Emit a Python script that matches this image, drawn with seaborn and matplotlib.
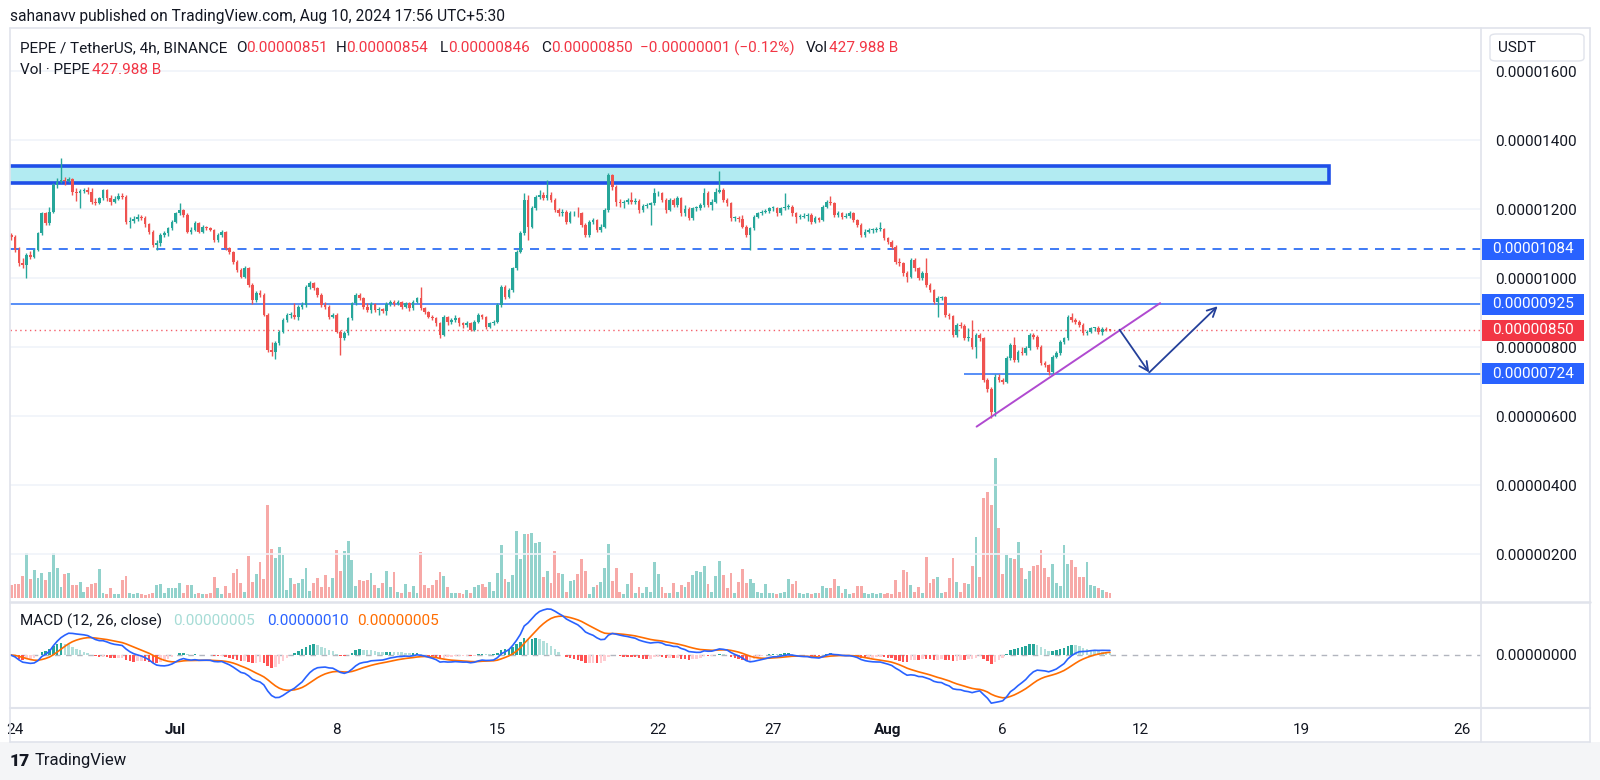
import numpy as np
import pandas as pd
import matplotlib
matplotlib.use("Agg")
import matplotlib.pyplot as plt
import matplotlib.dates as mdates
from matplotlib.patches import Rectangle, FancyBboxPatch
from matplotlib.lines import Line2D
import matplotlib.transforms as mtransforms
import seaborn as sns

sns.set_theme(style="white")
plt.rcParams['font.family'] = ['Roboto', 'DejaVu Sans']

# ---------------- data (prices in units of 1e-8 USDT) ----------------
UNIT = 1e-8
first_time = "2024-06-23 16:00"
first_open = 1154
closes = [
    1126, 1121, 1082, 1043, 1039, 1068,
    1063, 1082, 1130, 1188, 1159, 1193,
    1270, 1280, 1285, 1282, 1287, 1251,
    1246, 1253, 1256, 1251, 1222, 1218,
    1232, 1256, 1232, 1222, 1230, 1239,
    1236, 1164, 1166, 1172, 1179, 1176,
    1156, 1135, 1097, 1101, 1126, 1130,
    1145, 1164, 1188, 1198, 1184, 1135,
    1140, 1160, 1135, 1148, 1145, 1140,
    1111, 1126, 1135, 1087, 1077, 1048,
    1024, 1005, 1029, 981, 937, 957,
    952, 894, 792, 787, 812, 845,
    879, 894, 894, 889, 918, 923,
    976, 986, 971, 952, 923, 918,
    889, 894, 845, 826, 841, 884,
    928, 952, 942, 918, 908, 925,
    908, 910, 906, 925, 932, 926,
    932, 918, 928, 913, 932, 942,
    913, 903, 889, 884, 869, 836,
    889, 872, 879, 884, 869, 865,
    869, 850, 874, 893, 889, 860,
    869, 874, 923, 976, 947, 966,
    1029, 1077, 1130, 1227, 1150, 1203,
    1237, 1241, 1232, 1241, 1227, 1198,
    1188, 1193, 1164, 1188, 1190, 1188,
    1155, 1125, 1164, 1169, 1140, 1150,
    1198, 1300, 1265, 1222, 1217, 1222,
    1227, 1222, 1225, 1198, 1210, 1212,
    1217, 1246, 1246, 1227, 1198, 1227,
    1212, 1232, 1188, 1200, 1174, 1203,
    1203, 1212, 1248, 1212, 1222, 1251,
    1256, 1227, 1217, 1174, 1174, 1172,
    1150, 1126, 1145, 1179, 1188, 1193,
    1196, 1203, 1203, 1188, 1203, 1208,
    1208, 1188, 1179, 1179, 1181, 1184,
    1164, 1174, 1169, 1208, 1222, 1217,
    1184, 1188, 1179, 1181, 1188, 1169,
    1155, 1126, 1135, 1140, 1140, 1142,
    1142, 1116, 1106, 1092, 1048, 1043,
    1014, 1005, 1053, 1029, 1000, 1014,
    981, 966, 932, 942, 945, 894,
    890, 836, 865, 863, 826, 826,
    802, 836, 826, 705, 680, 612,
    715, 705, 700, 768, 807, 763,
    787, 783, 797, 836, 831, 802,
    754, 749, 729, 773, 783, 816,
    826, 889, 879, 874, 865, 841,
    845, 855, 855, 845, 852, 851, 850,
]
highs = [
    1160, 1131, 1125, 1090, 1060, 1072,
    1080, 1086, 1135, 1192, 1192, 1208,
    1276, 1290, 1348, 1295, 1293, 1290,
    1262, 1258, 1262, 1265, 1262, 1232,
    1236, 1260, 1260, 1240, 1238, 1246,
    1246, 1240, 1178, 1180, 1186, 1184,
    1180, 1160, 1140, 1110, 1130, 1138,
    1150, 1168, 1192, 1217, 1202, 1188,
    1150, 1166, 1164, 1154, 1152, 1150,
    1144, 1132, 1140, 1138, 1092, 1080,
    1052, 1030, 1035, 1034, 985, 962,
    966, 958, 898, 815, 818, 850,
    884, 900, 902, 928, 922, 930,
    980, 993, 990, 975, 956, 930,
    922, 900, 898, 850, 846, 888,
    932, 956, 958, 946, 928, 930,
    928, 916, 914, 930, 938, 936,
    938, 935, 932, 930, 936, 947,
    976, 918, 906, 894, 888, 872,
    893, 892, 886, 893, 888, 874,
    876, 872, 878, 898, 897, 892,
    874, 880, 928, 980, 982, 972,
    1034, 1082, 1136, 1248, 1240, 1210,
    1242, 1256, 1250, 1285, 1250, 1232,
    1204, 1200, 1198, 1194, 1196, 1208,
    1192, 1160, 1170, 1175, 1172, 1156,
    1204, 1305, 1302, 1270, 1230, 1228,
    1232, 1251, 1232, 1230, 1215, 1218,
    1222, 1262, 1252, 1250, 1232, 1232,
    1232, 1238, 1236, 1212, 1206, 1208,
    1210, 1218, 1262, 1252, 1230, 1262,
    1312, 1262, 1234, 1222, 1182, 1180,
    1184, 1155, 1150, 1184, 1192, 1198,
    1200, 1208, 1210, 1206, 1208, 1246,
    1214, 1212, 1192, 1186, 1188, 1190,
    1188, 1180, 1178, 1212, 1228, 1238,
    1220, 1194, 1192, 1188, 1194, 1192,
    1172, 1160, 1142, 1146, 1146, 1150,
    1164, 1146, 1120, 1110, 1096, 1058,
    1048, 1020, 1058, 1058, 1034, 1020,
    1058, 986, 970, 948, 950, 950,
    900, 894, 870, 872, 868, 855,
    880, 842, 840, 830, 712, 686,
    722, 722, 712, 774, 812, 829,
    792, 800, 804, 840, 842, 836,
    806, 760, 752, 778, 788, 820,
    830, 894, 899, 886, 880, 870,
    850, 860, 860, 862, 858, 858, 854,
]
lows = [
    1120, 1112, 1075, 1036, 1030, 1000,
    1055, 1058, 1078, 1125, 1155, 1155,
    1188, 1262, 1275, 1270, 1278, 1240,
    1225, 1205, 1248, 1245, 1215, 1212,
    1214, 1228, 1225, 1212, 1218, 1226,
    1230, 1158, 1145, 1160, 1166, 1170,
    1150, 1128, 1090, 1082, 1095, 1120,
    1124, 1140, 1160, 1184, 1178, 1130,
    1128, 1136, 1130, 1132, 1140, 1136,
    1105, 1106, 1120, 1082, 1070, 1042,
    1018, 1000, 1000, 976, 925, 930,
    945, 890, 785, 775, 766, 806,
    840, 872, 886, 882, 880, 912,
    918, 970, 965, 946, 918, 910,
    882, 884, 840, 778, 820, 836,
    880, 922, 936, 912, 902, 900,
    902, 895, 898, 895, 920, 920,
    922, 912, 914, 906, 908, 928,
    908, 896, 884, 878, 862, 826,
    832, 866, 868, 874, 862, 856,
    860, 846, 846, 870, 882, 852,
    855, 864, 870, 918, 940, 942,
    960, 1024, 1072, 1125, 1111, 1145,
    1198, 1230, 1226, 1228, 1220, 1192,
    1180, 1182, 1158, 1160, 1182, 1178,
    1150, 1120, 1120, 1158, 1134, 1134,
    1145, 1192, 1256, 1210, 1208, 1205,
    1215, 1215, 1215, 1190, 1192, 1204,
    1155, 1212, 1238, 1220, 1190, 1194,
    1206, 1208, 1180, 1182, 1168, 1170,
    1196, 1198, 1208, 1206, 1198, 1218,
    1246, 1222, 1210, 1166, 1166, 1164,
    1145, 1120, 1082, 1140, 1174, 1184,
    1188, 1190, 1196, 1182, 1184, 1198,
    1200, 1182, 1159, 1172, 1174, 1166,
    1158, 1160, 1162, 1165, 1204, 1212,
    1178, 1178, 1172, 1174, 1176, 1164,
    1148, 1120, 1120, 1130, 1132, 1134,
    1136, 1110, 1100, 1086, 1040, 1036,
    1008, 990, 1000, 1022, 994, 994,
    976, 960, 926, 888, 936, 888,
    882, 830, 830, 856, 820, 818,
    796, 768, 818, 698, 670, 594,
    600, 698, 694, 696, 762, 758,
    758, 778, 778, 792, 824, 796,
    748, 742, 720, 724, 768, 778,
    810, 820, 872, 868, 858, 836,
    836, 840, 848, 838, 836, 846, 846,
]
volume_b = [
    1020, 1105, 1190, 1190, 1870, 3825,
    1615, 2380, 1700, 2125, 1530, 2210,
    3825, 2550, 935, 2040, 2125, 1105,
    1105, 1360, 510, 935, 1190, 1275,
    2465, 425, 340, 850, 340, 340,
    1530, 1870, 425, 340, 425, 340,
    255, 340, 425, 1105, 1190, 425,
    850, 850, 850, 1275, 425, 1105,
    1105, 340, 425, 340, 340, 425,
    1785, 850, 340, 1020, 425, 2125,
    2465, 1275, 510, 3570, 1360, 2040,
    3060, 1615, 7905, 4165, 3400, 4335,
    3655, 680, 1700, 1190, 1275, 1615,
    2550, 595, 1275, 1700, 935, 1955,
    935, 1700, 4080, 2295, 3995, 4845,
    3230, 1020, 1530, 1445, 1530, 2125,
    1105, 850, 1275, 2295, 935, 2210,
    510, 425, 1190, 510, 1020, 425,
    3910, 1105, 850, 1105, 1530, 2210,
    1870, 935, 425, 425, 425, 340,
    680, 425, 935, 1105, 1190, 935,
    1360, 595, 2125, 4505, 1615, 1360,
    1955, 5695, 3315, 5440, 5440, 5525,
    4675, 4760, 1785, 2295, 1275, 3995,
    2125, 2040, 510, 1445, 1530, 2040,
    3315, 2295, 340, 935, 1105, 1360,
    2550, 4590, 1445, 2550, 510, 340,
    1190, 2125, 425, 935, 425, 935,
    510, 3060, 2040, 935, 425, 425,
    1275, 510, 1105, 935, 1360, 1955,
    2295, 2210, 2720, 1190, 510, 1870,
    3145, 1955, 850, 2125, 425, 1360,
    2465, 1275, 1615, 1275, 510, 425,
    1190, 425, 425, 340, 425, 510,
    1615, 1190, 1445, 425, 340, 425,
    340, 425, 425, 1020, 850, 850,
    1615, 1020, 425, 765, 340, 425,
    1020, 1020, 425, 340, 425, 340,
    425, 340, 425, 340, 1530, 510,
    2380, 2210, 1105, 510, 935, 425,
    3485, 1275, 1615, 1785, 425, 510,
    1700, 3400, 1360, 510, 1275, 1190,
    2720, 5185, 1785, 8500, 9010, 7905,
    11900, 5950, 2040, 3655, 3400, 3315,
    4760, 2550, 1615, 2295, 2720, 2805,
    4080, 2550, 1785, 2890, 1275, 1020,
    4505, 2890, 3230, 2635, 1785, 1785,
    3060, 1105, 1020, 850, 680, 510, 428,
]
assert len(closes) == len(highs) == len(lows) == len(volume_b)

price_ticks = [200, 400, 600, 800, 1000, 1200, 1400, 1600]
date_ticks = ["2024-06-24", "2024-07-01", "2024-07-08", "2024-07-15", "2024-07-22",
              "2024-07-27", "2024-08-01", "2024-08-06", "2024-08-12", "2024-08-19", "2024-08-26"]
date_labels = ["24", "Jul", "8", "15", "22", "27", "Aug", "6", "12", "19", "26"]
bold_labels = {"Jul", "Aug"}

level_dashed = 1084
level_upper = 925
level_last = 850
level_support = 724
zone_low, zone_high = 1277, 1326
zone_end = "2024-08-20 05:00"
support_start = "2024-08-04 07:30"
trend_pts = [("2024-08-04 20:40", 570), ("2024-08-12 20:25", 928)]
path_pts = [("2024-08-11 02:00", 851), ("2024-08-12 09:00", 727), ("2024-08-15 08:30", 919)]
view_start, view_end = "2024-06-23 18:46", "2024-08-26 19:40"

# ---------------- colours ----------------
DARK = '#131722'
GREEN = '#26a69a'
RED = '#ef5350'
TAGRED = '#f23645'
BLUE = '#2962ff'
ORANGE = '#ff6d00'
BORDER = '#e0e3eb'
GRID = '#f0f3fa'
FS = 11

# ---------------- figure geometry ----------------
W, H = 1600, 780
fig = plt.figure(figsize=(W / 100, H / 100), dpi=100)
fig.patch.set_facecolor('white')

def fx(p):
    return p / W

def fy(p):
    return 1 - p / H

PL, PR, PT, PM, PB, FB, FR = 10, 1481, 28, 602, 708, 742, 1590

fig.add_artist(Rectangle((0, 0), 1, fy(FB), transform=fig.transFigure,
                         facecolor='#f4f5f7', edgecolor='none', zorder=0))

ax = fig.add_axes([fx(PL), fy(PM), fx(PR - PL), (PM - PT) / H])
axv = ax.twinx()
axm = fig.add_axes([fx(PL), fy(PB), fx(PR - PL), (PB - PM) / H], sharex=ax)
ax.set_zorder(3)
axv.set_zorder(2)
ax.patch.set_visible(False)
axv.patch.set_visible(False)
axm.patch.set_visible(False)

times = pd.date_range(first_time, periods=len(closes), freq="4h")
x = mdates.date2num(times.to_pydatetime())
c = np.array(closes, float)
o = np.concatenate([[first_open], c[:-1]])
h = np.array(highs, float)
l = np.array(lows, float)
up = c >= o
col = np.where(up, GREEN, RED)

# candles
ax.vlines(x, l * UNIT, h * UNIT, colors=col, lw=1.0, zorder=4)
body = np.maximum(np.abs(c - o), 2.5)
ax.bar(x, body * UNIT, bottom=np.minimum(o, c) * UNIT, width=0.115, color=col,
       linewidth=0, zorder=5)

# volume
vcol = np.where(up, '#92d2cc', '#f7a9a7')
axv.bar(x, volume_b, width=0.125, color=vcol, linewidth=0)
axv.set_ylim(-340, 48450)
axv.set_yticks([])
for s in axv.spines.values():
    s.set_visible(False)

ymin, ymax = 61.7 * UNIT, 1725.5 * UNIT
ax.set_ylim(ymin, ymax)
per_px = (ymax - ymin) / (PM - PT)
x0 = mdates.date2num(pd.Timestamp(view_start))
x1 = mdates.date2num(pd.Timestamp(view_end))
ax.set_xlim(x0, x1)

def tnum(s):
    return mdates.date2num(pd.Timestamp(s))

# zone rectangle
ax.add_patch(Rectangle((x0 - 2, zone_low * UNIT), tnum(zone_end) - (x0 - 2),
                       (zone_high - zone_low) * UNIT, facecolor='#b2ebf2',
                       edgecolor='#1f4fe8', lw=2.6, zorder=2))

# horizontal levels
ax.axhline(level_dashed * UNIT, color='#2f6ff5', lw=1.3, ls=(0, (5, 4)), zorder=3)
ax.axhline(level_upper * UNIT, color='#3b7cf6', lw=1.2, zorder=3)
ax.axhline(level_last * UNIT, color=TAGRED, lw=1.0, ls=(0, (1, 2.5)), alpha=0.8, zorder=3)
ax.hlines(level_support * UNIT, tnum(support_start), x1, color='#3b7cf6', lw=1.2, zorder=3)

# trend line
ax.plot([tnum(trend_pts[0][0]), tnum(trend_pts[1][0])],
        [trend_pts[0][1] * UNIT, trend_pts[1][1] * UNIT],
        color='#b04ad0', lw=1.4, zorder=6)

# projected path arrows
NAVY = '#24409a'
for (ta, va), (tb, vb) in zip(path_pts[:-1], path_pts[1:]):
    ax.annotate('', xy=(tnum(tb), vb * UNIT), xytext=(tnum(ta), va * UNIT),
                arrowprops=dict(arrowstyle='->', color=NAVY, lw=1.3,
                                mutation_scale=16, shrinkA=0, shrinkB=0), zorder=7)

# price axis
ax.yaxis.tick_right()
ax.set_yticks([v * UNIT for v in price_ticks])
ax.set_yticklabels([f"{v * UNIT:.8f}" for v in price_ticks])
ax.tick_params(axis='y', length=0, pad=10, labelsize=FS, labelcolor=DARK)
ax.tick_params(axis='x', length=0, labelbottom=False)
ax.grid(axis='y', color=GRID, lw=1.2)
ax.grid(axis='x', visible=False)
ax.set_axisbelow(True)
for s in ax.spines.values():
    s.set_visible(False)

tr = mtransforms.blended_transform_factory(fig.transFigure, ax.transData)

def tag(v, fc):
    hh = 21 * per_px
    ax.add_artist(Rectangle((fx(PR + 1), v * UNIT - hh / 2), fx(102), hh,
                            transform=tr, facecolor=fc, edgecolor='none',
                            clip_on=False, zorder=10))
    ax.text(fx(1533), v * UNIT, f"{v * UNIT:.8f}", transform=tr, ha='center', va='center',
            color='white', fontsize=FS, zorder=11, clip_on=False)

tag(level_dashed, BLUE)
tag(level_upper, BLUE)
tag(level_last, TAGRED)
tag(level_support, BLUE)

# ---------------- MACD ----------------
cs = pd.Series(c)
macd = cs.ewm(span=12, adjust=False).mean() - cs.ewm(span=26, adjust=False).mean()
signal = macd.ewm(span=9, adjust=False).mean()
hist = macd - signal
prev = hist.shift(1).fillna(0)
hcol = np.where(hist >= 0, np.where(hist >= prev, GREEN, '#b2dfdb'),
                np.where(hist < prev, '#ff5252', '#ffcdd2'))
axm.bar(x, hist.values * UNIT, width=0.11, color=hcol, linewidth=0, zorder=2)
axm.axhline(0, color='#b2b5be', lw=1.0, ls=(0, (4, 4)), zorder=1)
sns.lineplot(x=x, y=macd.values * UNIT, ax=axm, color=BLUE, linewidth=1.2, zorder=4)
sns.lineplot(x=x, y=signal.values * UNIT, ax=axm, color=ORANGE, linewidth=1.2, zorder=3)
lim = 1.1 * float(np.abs(macd).max()) * UNIT
axm.set_ylim(-lim, lim)
axm.set_xlabel('')
axm.set_ylabel('')
axm.yaxis.tick_right()
axm.set_yticks([0])
axm.set_yticklabels(['0.00000000'])
axm.tick_params(axis='y', length=0, pad=10, labelsize=FS, labelcolor=DARK)
axm.set_xticks([tnum(d) for d in date_ticks])
axm.set_xticklabels(date_labels)
axm.tick_params(axis='x', length=0, pad=11, labelsize=FS, labelcolor=DARK)
for t in axm.get_xticklabels():
    if t.get_text() in bold_labels:
        t.set_fontweight('bold')
axm.grid(False)
for s in axm.spines.values():
    s.set_visible(False)
ax.set_xlim(x0, x1)

# ---------------- frame lines ----------------
def fline(xa, ya, xb, yb, color=BORDER, lw=1.2):
    fig.add_artist(Line2D([fx(xa), fx(xb)], [fy(ya), fy(yb)], transform=fig.transFigure,
                          color=color, lw=lw, zorder=20))

fline(PL, PT, FR, PT)
fline(PL, PM, FR, PM, lw=1.8)
fline(PL, PB, FR, PB, lw=1.5)
fline(PL, FB, FR, FB)
fline(PL, PT, PL, FB)
fline(FR, PT, FR, FB)
fline(PR, PT, PR, FB)

# USDT box
fig.add_artist(FancyBboxPatch((fx(1490), fy(61)), fx(94), 27 / H,
                              boxstyle='round,pad=0,rounding_size=0.004',
                              transform=fig.transFigure, facecolor='white',
                              edgecolor=BORDER, lw=1.0, zorder=21))
fig.text(fx(1498), fy(47.5), "USDT", fontsize=FS, color=DARK, va='center', ha='left', zorder=22)

# ---------------- texts ----------------
def ftext(xp, yp, s, color=DARK, size=FS, **kw):
    fig.text(fx(xp), fy(yp), s, color=color, fontsize=size, va='center', ha='left', zorder=25, **kw)

ftext(10, 16, "sahanavv published on TradingView.com, Aug 10, 2024 17:56 UTC+5:30", size=11.2)
header = [(20, "PEPE / TetherUS, 4h, BINANCE", DARK), (236, "O", DARK), (246, "0.00000851", TAGRED),
          (336, "H", DARK), (346, "0.00000854", TAGRED), (440, "L", DARK), (448, "0.00000846", TAGRED),
          (541, "C", DARK), (551, "0.00000850", TAGRED), (640, "\u22120.00000001 (\u22120.12%)", TAGRED),
          (806, "Vol", DARK), (829, "427.988 B", TAGRED)]
for xp, s, cc in header:
    ftext(xp, 48, s, color=cc)
ftext(20, 70, "Vol \u00b7 PEPE")
ftext(92, 70, "427.988 B", color=TAGRED)

ftext(20, 621, "MACD (12, 26, close)")
ftext(173, 621, "0.00000005", color='#a6dcd6')
ftext(267, 621, "0.00000010", color=BLUE)
ftext(357, 621, "0.00000005", color=ORANGE)

ftext(10, 761, "17", size=12.5, fontweight='black')
ftext(35, 761, "TradingView", size=12)

fig.savefig("out.png", dpi=100)
